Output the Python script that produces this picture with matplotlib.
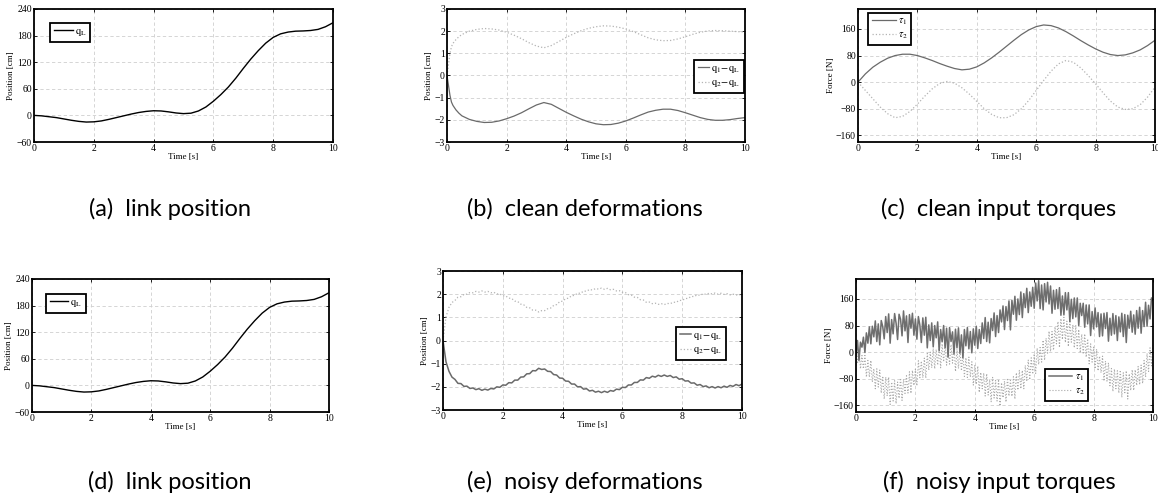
import numpy as np
import matplotlib
matplotlib.use("Agg")
import matplotlib.pyplot as plt

plt.rcParams["font.family"] = ["Liberation Serif", "DejaVu Serif"]
plt.rcParams["mathtext.fontset"] = "stix"

# ---- clean signals (0.25 s grid) ----
T_CLEAN = np.arange(41) * 0.25
Q_L = [0, -1, -3, -5, -8, -11, -13.5, -15, -14.5, -12.5, -9, -5, -1, 3, 6.5, 9,
       10.5, 10, 8, 5.5, 4, 5, 10, 19, 32, 47, 64, 84, 106, 127, 146, 163, 176,
       184, 188, 190, 190.5, 191.5, 194, 200, 209]
TAU1_CLEAN = [0, 25, 45, 60, 72, 80, 84, 84, 80, 73, 65, 56, 48, 41, 37, 39, 46,
              58, 73, 90, 108, 126, 143, 157, 167, 172, 170, 163, 152, 139, 125,
              112, 100, 90, 83, 80, 82, 88, 97, 110, 126]
TAU2_CLEAN = [0, -25, -50, -75, -95, -107, -103, -88, -66, -42, -20, -4, 2, -3,
              -17, -36, -58, -80, -97, -107, -107, -98, -80, -55, -25, 5, 33, 55,
              65, 60, 43, 20, -5, -32, -57, -75, -82, -80, -68, -45, -15]

# deformations: denser at the start
T_DEF = [0, 0.05, 0.1, 0.15, 0.2, 0.3, 0.4, 0.5] + list(np.arange(3, 41) * 0.25)
D1_CLEAN = [0, -0.45, -0.9, -1.2, -1.35, -1.55, -1.7, -1.82,
            -1.98, -2.07, -2.12, -2.11, -2.05, -1.95, -1.83, -1.68, -1.5, -1.33,
            -1.22, -1.3, -1.48, -1.66, -1.82, -1.97, -2.09, -2.18,
            -2.22, -2.21, -2.15, -2.05, -1.92, -1.78, -1.65, -1.57,
            -1.52, -1.52, -1.58, -1.68, -1.79, -1.9, -1.98, -2.02,
            -2.02, -1.99, -1.94, -1.9]
D2_CLEAN = [0, 0.5, 1.0, 1.3, 1.45, 1.62, 1.75, 1.85,
            2.0, 2.08, 2.12, 2.1, 2.05, 1.95, 1.82, 1.66, 1.48, 1.33,
            1.25, 1.35, 1.53, 1.72, 1.88, 2.02, 2.13, 2.2,
            2.24, 2.23, 2.18, 2.1, 1.98, 1.84, 1.7, 1.61,
            1.57, 1.58, 1.65, 1.75, 1.86, 1.95, 2.01, 2.03,
            2.02, 2.0, 1.98, 1.96]

# ---- noisy signals (0.1 s / 0.05 s grids) ----
D1_NOISY = [0.00, -0.92, -1.33, -1.58, -1.68, -1.85, -1.86, -1.98, -1.97, -2.07,
            -2.05, -2.12, -2.08, -2.15, -2.10, -2.14, -2.07, -2.09, -2.00, -2.02,
            -1.92, -1.93, -1.82, -1.83, -1.71, -1.71, -1.58, -1.57, -1.44, -1.43,
            -1.30, -1.31, -1.20, -1.25, -1.23, -1.33, -1.34, -1.47, -1.49, -1.62,
            -1.63, -1.75, -1.76, -1.88, -1.88, -2.00, -1.99, -2.10, -2.08, -2.18,
            -2.15, -2.23, -2.19, -2.25, -2.19, -2.24, -2.16, -2.19, -2.10, -2.12,
            -2.02, -2.03, -1.92, -1.92, -1.81, -1.81, -1.70, -1.71, -1.60, -1.63,
            -1.54, -1.58, -1.50, -1.55, -1.49, -1.55, -1.51, -1.60, -1.57, -1.67,
            -1.65, -1.75, -1.74, -1.84, -1.83, -1.93, -1.90, -1.99, -1.96, -2.04,
            -1.99, -2.05, -1.99, -2.04, -1.97, -2.02, -1.94, -1.98, -1.90, -1.95,
            -1.88]
D2_NOISY = [0.00, 1.02, 1.43, 1.64, 1.73, 1.87, 1.89, 1.99, 2.00, 2.07,
            2.06, 2.12, 2.09, 2.14, 2.09, 2.12, 2.06, 2.08, 2.01, 2.01,
            1.93, 1.92, 1.83, 1.81, 1.70, 1.68, 1.57, 1.54, 1.43, 1.41,
            1.31, 1.31, 1.23, 1.29, 1.29, 1.37, 1.40, 1.51, 1.55, 1.67,
            1.70, 1.80, 1.83, 1.93, 1.95, 2.04, 2.04, 2.13, 2.13, 2.20,
            2.18, 2.24, 2.22, 2.26, 2.21, 2.25, 2.19, 2.21, 2.14, 2.15,
            2.08, 2.07, 1.98, 1.96, 1.87, 1.86, 1.76, 1.75, 1.65, 1.66,
            1.59, 1.61, 1.56, 1.59, 1.55, 1.60, 1.59, 1.65, 1.65, 1.73,
            1.73, 1.81, 1.82, 1.90, 1.90, 1.97, 1.95, 2.02, 1.99, 2.04,
            2.01, 2.05, 2.00, 2.04, 1.99, 2.02, 1.97, 2.00, 1.96, 1.99,
            1.94]
TAU1_NOISY = [-10, 35, -25, 30, 15, 45, -1, 58, 27, 76,
              25, 78, 46, 94, 32, 85, 22, 95, 77, 40,
              107, 59, 115, 27, 98, 55, 116, 87, 38, 114,
              99, 49, 124, 64, 109, 29, 113, 72, 117, 51,
              100, 39, 107, 81, 29, 103, 51, 105, 13, 82,
              35, 88, 16, 80, 43, 91, 4, 68, 31, 80,
              13, 72, -15, 74, 32, 61, -5, 69, 13, 73,
              -3, 52, -17, 68, 19, 74, 10, 62, -2, 70,
              21, 78, 11, 68, 26, 88, 41, 104, 32, 90,
              28, 101, 65, 118, 47, 110, 59, 127, 91, 139,
              68, 137, 95, 154, 67, 156, 114, 168, 96, 160,
              113, 181, 104, 176, 134, 192, 119, 181, 138, 195,
              132, 208, 154, 215, 131, 202, 127, 206, 151, 210,
              145, 199, 117, 186, 129, 188, 131, 194, 111, 169,
              112, 179, 127, 179, 92, 159, 101, 163, 106, 163,
              80, 147, 110, 147, 75, 142, 85, 142, 50, 122,
              70, 133, 76, 119, 47, 115, 49, 117, 71, 119,
              33, 102, 51, 116, 55, 110, 35, 106, 61, 117,
              47, 113, 29, 111, 72, 123, 60, 112, 54, 125,
              72, 135, 57, 125, 77, 150, 78, 141, 100, 163,
              156]
TAU2_NOISY = [15, -35, 10, -50, -10, -50, -10, -75, -25, -75,
              -25, -90, -50, -110, -50, -105, -54, -123, -72, -141,
              -75, -132, -75, -157, -90, -147, -86, -155, -90, -139,
              -78, -145, -82, -124, -71, -123, -59, -124, -55, -100,
              -51, -101, -26, -77, -27, -77, -18, -78, -4, -54,
              0, -47, 11, -50, 8, -39, 17, -47, 25, -29,
              22, -39, 15, -36, 23, -33, 19, -58, 9, -49,
              8, -56, -5, -73, -17, -76, -15, -75, -29, -99,
              -38, -97, -42, -121, -61, -110, -63, -132, -65, -129,
              -82, -149, -76, -138, -85, -147, -82, -162, -92, -137,
              -87, -150, -78, -132, -85, -133, -74, -141, -62, -114,
              -55, -110, -55, -110, -40, -85, -24, -83, -17, -66,
              -5, -64, 12, -37, 14, -30, 36, -24, 42, -3,
              63, 2, 62, 6, 76, 25, 92, 14, 101, 38,
              105, 29, 93, 17, 96, 30, 82, 13, 80, 11,
              68, -2, 54, -6, 55, -15, 40, -35, 25, -30,
              15, -50, 9, -56, -12, -62, -12, -87, -27, -87,
              -32, -101, -49, -118, -51, -110, -56, -123, -54, -136,
              -62, -122, -56, -141, -65, -115, -53, -115, -53, -100,
              -43, -98, -39, -94, -25, -75, -4, -58, 13, -41,
              20]

CAPTIONS = ["(a)  link position", "(b)  clean deformations", "(c)  clean input torques",
            "(d)  link position", "(e)  noisy deformations", "(f)  noisy input torques"]

W, H = 1158, 498
DARK = "#6a6a6a"
LIGHT = "#b4b4b4"


def make_axes(left, top, right, bottom):
    ax = plt.gcf().add_axes([left / W, 1 - bottom / H, (right - left) / W, (bottom - top) / H])
    ax.set_xlim(0, 10)
    ax.set_xticks([0, 2, 4, 6, 8, 10])
    ax.grid(True, color="#cfcfcf", linestyle=(0, (4, 3)), linewidth=0.6)
    ax.set_axisbelow(True)
    for sp in ax.spines.values():
        sp.set_linewidth(1.3)
    ax.tick_params(direction="in", length=2, width=0.6, top=True, right=True,
                   labelsize=7, pad=1.5)
    ax.set_xlabel("Time [s]", fontsize=6.5, labelpad=0)
    return ax


def add_legend(ax, anchor, hlen=2.0, **kw):
    leg = ax.legend(loc="upper left", bbox_to_anchor=anchor, fontsize=7.5,
                    fancybox=False, edgecolor="black", framealpha=1,
                    handlelength=hlen, handletextpad=0.2, borderpad=0.35,
                    labelspacing=0.3, borderaxespad=0, **kw)
    leg.get_frame().set_linewidth(1.3)
    return leg


fig = plt.figure(figsize=(W / 100, H / 100), dpi=100)

label_qL = r"$\mathrm{q_L}$"
label_d1 = r"$\mathrm{q_1\!-\!q_L}$"
label_d2 = r"$\mathrm{q_2\!-\!q_L}$"
label_t1 = r"$\tau_1$"
label_t2 = r"$\tau_2$"

# (a) / (d) link position
for box, anchor in [((34, 9, 333, 142), (0.054, 0.895)),
                    ((32, 279, 329, 412), (0.047, 0.887))]:
    ax = make_axes(*box)
    ax.plot(T_CLEAN, Q_L, color="black", lw=1.0, label=label_qL)
    ax.set_ylim(-60, 240)
    ax.set_yticks(np.arange(-60, 241, 60))
    ax.set_ylabel("Position [cm]", fontsize=6.5, labelpad=1)
    add_legend(ax, anchor, hlen=1.8)

# (b) clean deformations
ax = make_axes(447, 9, 745, 142)
ax.plot(T_DEF, D1_CLEAN, color=DARK, lw=0.9, label=label_d1)
ax.plot(T_DEF, D2_CLEAN, color=LIGHT, lw=0.9, linestyle=":", label=label_d2)
ax.set_ylim(-3, 3)
ax.set_yticks(np.arange(-3, 4, 1))
ax.set_ylabel("Position [cm]", fontsize=6.5, labelpad=1)
add_legend(ax, (0.829, 0.617), hlen=1.1)

# (e) noisy deformations
ax = make_axes(443, 271, 742, 410)
ax.plot(np.linspace(0, 10, len(D1_NOISY)), D1_NOISY, color=DARK, lw=1.1, label=label_d1)
ax.plot(np.linspace(0, 10, len(D2_NOISY)), D2_NOISY, color=LIGHT, lw=0.9, linestyle=":", label=label_d2)
ax.set_ylim(-3, 3)
ax.set_yticks(np.arange(-3, 4, 1))
ax.set_ylabel("Position [cm]", fontsize=6.5, labelpad=1)
add_legend(ax, (0.779, 0.597), hlen=1.1)

# (c) clean torques
ax = make_axes(858, 9, 1155, 142)
ax.plot(T_CLEAN, TAU1_CLEAN, color=DARK, lw=0.9, label=label_t1)
ax.plot(T_CLEAN, TAU2_CLEAN, color=LIGHT, lw=0.9, linestyle=":", label=label_t2)
ax.set_ylim(-180, 220)
ax.set_yticks(np.arange(-160, 161, 80))
ax.set_ylabel("Force [N]", fontsize=6.5, labelpad=1)
add_legend(ax, (0.034, 0.97), hlen=2.3)

# (f) noisy torques
ax = make_axes(856, 279, 1153, 412)
ax.plot(np.linspace(0, 10, len(TAU2_NOISY)), TAU2_NOISY, color="#a8a8a8", lw=0.8,
        linestyle=":", label=label_t2)
ax.plot(np.linspace(0, 10, len(TAU1_NOISY)), TAU1_NOISY, color="#6e6e6e", lw=1.1,
        label=label_t1)
ax.set_ylim(-180, 220)
ax.set_yticks(np.arange(-160, 161, 80))
ax.set_ylabel("Force [N]", fontsize=6.5, labelpad=1)
h, l = ax.get_legend_handles_labels()
add_legend(ax, (0.636, 0.323), hlen=2.3, handles=h[::-1], labels=l[::-1])

# captions
for i, cap in enumerate(CAPTIONS):
    cx = [170, 585, 999][i % 3]
    cy = 209 if i < 3 else 482
    fig.text(cx / W, 1 - cy / H, cap, ha="center", va="center",
             fontsize=17, family="Lato")

fig.savefig("out.png", dpi=100)
